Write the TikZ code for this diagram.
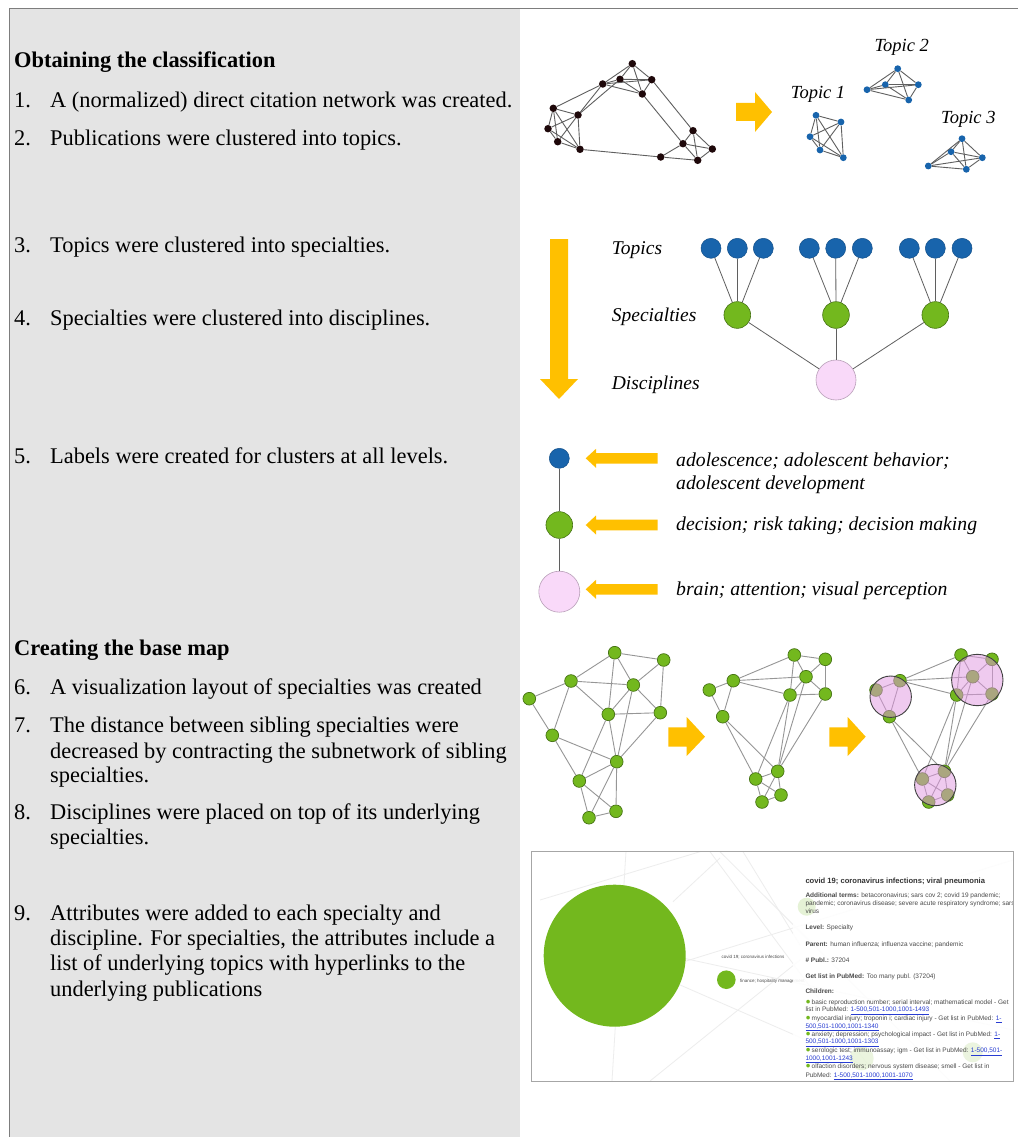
\documentclass[tikz,border=0pt]{standalone}
\usepackage{fontspec}
\setmainfont{Liberation Serif}
\newfontfamily\uisans{Liberation Sans}
\definecolor{orng}{RGB}{255,192,0}
\definecolor{panelgray}{RGB}{228,228,228}
\definecolor{framegray}{RGB}{125,125,125}
\definecolor{nodeblk}{RGB}{30,8,10}
\definecolor{nodeblue}{RGB}{24,100,172}
\definecolor{gnode}{RGB}{115,184,30}
\definecolor{gborder}{RGB}{70,115,20}
\definecolor{pinkn}{RGB}{249,217,249}
\definecolor{pborder}{RGB}{185,160,185}
\definecolor{pinkov}{RGB}{225,150,225}
\definecolor{edgegray}{RGB}{95,95,95}
\definecolor{edgelight}{RGB}{150,150,150}
\definecolor{ptext}{RGB}{75,75,75}
\definecolor{linkblue}{RGB}{40,60,210}
\newcommand\lnk[1]{\textcolor{linkblue}{\underline{#1}}}
\newcommand\gdot{{\fontsize{8.5}{8}\selectfont\textcolor{gnode}{●}}\,}
\begin{document}
\begin{tikzpicture}[x=1pt,y=-1pt,
  txt/.style={anchor=base west,inner sep=0pt,font=\fontsize{22.4}{26}\selectfont},
  hd/.style={anchor=base west,inner sep=0pt,font=\fontsize{22.4}{26}\selectfont\bfseries},
  lab/.style={anchor=base west,inner sep=0pt,font=\fontsize{19.5}{23}\selectfont\itshape},
  tlab/.style={anchor=base west,inner sep=0pt,font=\fontsize{18.5}{22}\selectfont\itshape},
  blk/.style={circle,fill=nodeblk,inner sep=0pt,minimum size=7.5pt},
  tb/.style={circle,fill=nodeblue,inner sep=0pt,minimum size=6.8pt},
  gn/.style={circle,fill=gnode,draw=gborder,line width=0.7pt,inner sep=0pt,minimum size=12.7pt},
  hb/.style={circle,fill=nodeblue,draw=nodeblue!80!black,line width=0.5pt,inner sep=0pt,minimum size=20pt},
  hg/.style={circle,fill=gnode,draw=gborder,line width=0.6pt,inner sep=0pt,minimum size=26.7pt},
  hp/.style={circle,fill=pinkn,draw=pborder,line width=0.6pt,inner sep=0pt,minimum size=40pt},
  ov/.style={circle,fill=pinkov,fill opacity=0.5,draw=black!75,line width=0.9pt,inner sep=0pt},
  edge/.style={draw=edgegray,line width=0.9pt},
  ledge/.style={draw=edgelight,line width=0.9pt},
  pt/.style={anchor=base west,inner sep=0pt,font=\uisans\fontsize{6.5}{7.5}\selectfont,text=ptext},
  maplab/.style={anchor=base west,inner sep=0pt,font=\uisans\fontsize{4.5}{5}\selectfont,text=ptext}
]
\useasboundingbox (0,0) rectangle (1018,1137);
\fill[white] (0,0) rectangle (1018,1137);
% left panel
\fill[panelgray] (9.5,8.5) rectangle (519.5,1137);
\draw[framegray,line width=1.2pt] (9.5,1137) -- (9.5,8.5) -- (1018,8.5);

% ---- left texts
\node[hd] (h1) at (14,68) {Obtaining the classification};
\node[txt] (n1) at (14,107.7) {1.};
\node[txt] (t1) at (50,107.7) {A (normalized) direct citation network was created.};
\node[txt] (n2) at (14,145.3) {2.};
\node[txt] (t2) at (50,145.3) {Publications were clustered into topics.};
\node[txt] (n3) at (14,252) {3.};
\node[txt] (t3) at (50,252) {Topics were clustered into specialties.};
\node[txt] (n4) at (14,325) {4.};
\node[txt] (t4) at (50,325) {Specialties were clustered into disciplines.};
\node[txt] (n5) at (14,463) {5.};
\node[txt] (t5) at (50,463) {Labels were created for clusters at all levels.};
\node[hd] (h2) at (14,655) {Creating the base map};
\node[txt] (n6) at (14,694) {6.};
\node[txt] (t6) at (50,694) {A visualization layout of specialties was created};
\node[txt] (n7) at (14,732) {7.};
\node[txt] (t7a) at (50,732) {The distance between sibling specialties were};
\node[txt] (t7b) at (50,758) {decreased by contracting the subnetwork of sibling};
\node[txt] (t7c) at (50,782) {specialties.};
\node[txt] (n8) at (14,819) {8.};
\node[txt] (t8a) at (50,819) {Disciplines were placed on top of its underlying};
\node[txt] (t8b) at (50,844) {specialties.};
\node[txt] (n9) at (14,920) {9.};
\node[txt] (t9a) at (50,920) {Attributes were added to each specialty and};
\node[txt] (t9b) at (50,945) {discipline. For specialties, the attributes include a};
\node[txt] (t9c) at (50,970) {list of underlying topics with hyperlinks to the};
\node[txt] (t9d) at (50,996) {underlying publications};

% ---- citation network (black)
\foreach \i/\x/\y in {1/632.3/63.7,2/602.7/84,3/620/79.3,4/651.7/79.7,5/642.3/94,
  6/553.3/108.3,7/578/115,8/548/128.7,9/557.7/141.7,10/580/149.3,
  11/693/130.7,12/683/143.7,13/712.3/149,14/660.7/157,15/697.7/160.3}
  \node[blk] (k\i) at (\x,\y) {};
\foreach \a/\b in {1/2,1/3,1/4,1/5,2/3,2/4,2/5,3/4,3/5,4/5,
  6/7,6/8,6/9,6/10,7/8,7/9,7/10,8/9,8/10,9/10,
  11/12,11/13,11/15,12/13,12/14,12/15,13/15,14/15,
  6/2,7/2,7/3,10/14,4/11,5/12}
  \draw[edge] (k\a) -- (k\b);
% arrow
\fill[orng] (736,103) -- (755,103) -- (755,92) -- (772,112) -- (755,132) -- (755,121) -- (736,121) -- cycle;
% topics
\node[tlab] (tl2) at (874.3,51.7) {Topic 2};
\node[tlab] (tl1) at (790.7,98.3) {Topic 1};
\node[tlab] (tl3) at (941,123.3) {Topic 3};
\foreach \i/\x/\y in {1/897.7/68.7,2/867/89.7,3/885.3/84.7,4/918.3/84.7,5/908.7/100}
  \node[tb] (p\i) at (\x,\y) {};
\foreach \i/\x/\y in {1/816/115.3,2/841/122,3/810/136.7,4/820/150,5/843.3/157.7}
  \node[tb] (q\i) at (\x,\y) {};
\foreach \i/\x/\y in {1/962/138.7,2/951/151.7,3/982.3/157.7,4/928.3/166,5/966.3/169.3}
  \node[tb] (r\i) at (\x,\y) {};
\foreach \a/\b in {1/2,1/3,1/4,1/5,2/3,2/4,2/5,3/4,3/5,4/5}{
  \draw[edge] (p\a) -- (p\b);
  \draw[edge] (q\a) -- (q\b);
  \draw[edge] (r\a) -- (r\b);
}

% ---- hierarchy
\fill[orng] (550,239) -- (568,239) -- (568,379) -- (578,379) -- (559,399) -- (540,379) -- (550,379) -- cycle;
\node[lab] (lt) at (611.7,254.3) {Topics};
\node[lab] (ls) at (611.7,321.7) {Specialties};
\node[lab] (ld) at (611.7,389) {Disciplines};
\foreach \i/\x in {1/711,2/737.3,3/763.3,4/809.3,5/835.7,6/862.3,7/909.3,8/935.3,9/962}
  \node[hb] (ht\i) at (\x,248.3) {};
\node[hg] (hs1) at (737.3,315) {};
\node[hg] (hs2) at (836,315) {};
\node[hg] (hs3) at (935.3,315) {};
\node[hp] (hd1) at (836,380) {};
\foreach \a/\b in {1/1,2/1,3/1,4/2,5/2,6/2,7/3,8/3,9/3}
  \draw[edge,line width=0.8pt] (ht\a) -- (hs\b);
\foreach \b in {1,2,3}
  \draw[edge,line width=0.8pt] (hs\b) -- (hd1);

% ---- labels
\node[hb] (lb) at (559.3,458.3) {};
\node[hg] (lg) at (559.3,525) {};
\node[hp,minimum size=41pt] (lp) at (559.3,591.7) {};
\draw[edge,line width=0.8pt] (lb) -- (lg);
\draw[edge,line width=0.8pt] (lg) -- (lp);
\foreach \y in {458.3,525,589.3}
  \fill[orng] (585.7,\y) -- (596,\y-9.5) -- (596,\y-5.3) -- (657.7,\y-5.3) -- (657.7,\y+5.3) -- (596,\y+5.3) -- (596,\y+9.5) -- cycle;
\node[lab,font=\fontsize{19.7}{23}\selectfont\itshape] (la1) at (676,466) {adolescence; adolescent behavior;};
\node[lab,font=\fontsize{19.7}{23}\selectfont\itshape] (la2) at (676,489.3) {adolescent development};
\node[lab,font=\fontsize{19.7}{23}\selectfont\itshape] (la3) at (676,530) {decision; risk taking; decision making};
\node[lab,font=\fontsize{19.7}{23}\selectfont\itshape] (la4) at (676,595) {brain; attention; visual perception};

% ---- base maps
\foreach \i/\x/\y in {1/614.7/652.7,2/663.7/660,3/571/681,4/633.3/685,5/529.3/698.7,6/608.3/714.3,
  7/660.3/712.7,8/552.3/735.3,9/616.7/761.7,10/579.3/781,11/616/811.3,12/589/817.7}
  \node[gn] (a\i) at (\x,\y) {};
\foreach \i/\x/\y in {1/794.3/655,2/825.3/659.3,3/733.3/680.7,4/806/676.7,5/709.3/690,6/790/695,
  7/825.3/694,8/722.7/716.7,9/777.7/771.3,10/755.7/779,11/781/795,12/762/802}{
  \node[gn] (b\i) at (\x,\y) {};
  \node[gn] (c\i) at (\x+166.7,\y) {};
}
\foreach \a/\b in {1/2,1/3,1/4,1/6,2/4,2/7,3/4,3/5,3/6,3/8,4/6,4/7,4/9,5/8,6/7,6/9,6/10,7/9,8/9,8/10,9/10,9/11,9/12,10/11,10/12,11/12}{
  \draw[ledge] (a\a) -- (a\b);
  \draw[ledge] (b\a) -- (b\b);
  \draw[ledge] (c\a) -- (c\b);
}
\node[ov,minimum size=41.4pt] (d1) at (890.7,696.7) {};
\node[ov,minimum size=51.4pt] (d2) at (977.3,680) {};
\node[ov,minimum size=41.4pt] (d3) at (935.3,785) {};
\fill[orng] (668.3,727.3) -- (686.7,727.3) -- (686.7,717) -- (705,736.7) -- (686.7,756) -- (686.7,746.7) -- (668.3,746.7) -- cycle;
\fill[orng] (829.3,727.3) -- (847.7,727.3) -- (847.7,717) -- (865.7,736.7) -- (847.7,756) -- (847.7,746.7) -- (829.3,746.7) -- cycle;

% ---- screenshot
\begin{scope}
\clip (531.5,851.5) rectangle (1013.5,1081);
\foreach \sx/\sy/\ex/\ey in {626/851/612/1081, 710/851.7/880/1081, 720/851.7/950/1081,
  560/1000/1013/860, 600/940/1013/1030, 600/950/900/1081, 673/901.7/720/858, 743/851.7/800/945,
  540/900/700/851.7, 650/1081/800/960}
  \draw[black!7,line width=0.8pt] (\sx,\sy) -- (\ex,\ey);
\node[circle,fill=gnode,inner sep=0pt,minimum size=142pt] (big) at (614.7,955.7) {};
\node[circle,fill=gnode,inner sep=0pt,minimum size=18.6pt] (small) at (726.3,979.7) {};
\node[maplab] (ml1) at (721.5,958.8) {covid 19; coronavirus infections};
\node[maplab] (ml2) at (740,982.6) {finance; hospitality management};
\fill[white,opacity=0.88] (793,851.5) rectangle (1013.5,1081);
\fill[gnode,opacity=0.18] (806.7,906.7) circle (9);
\fill[gnode,opacity=0.14] (861.7,1058.3) circle (12);
\fill[gnode,opacity=0.14] (972.7,1052.3) circle (10);
\node[pt,font=\uisans\bfseries\fontsize{7.6}{8}\selectfont,text=black!80] (s0) at (805.3,883.6) {covid 19; coronavirus infections; viral pneumonia};
\node[pt] (s1) at (805.3,897.2) {\textbf{Additional terms:} betacoronavirus; sars cov 2; covid 19 pandemic;};
\node[pt] (s2) at (805.3,905.2) {pandemic; coronavirus disease; severe acute respiratory syndrome; sars};
\node[pt] (s3) at (805.3,913.2) {virus};
\node[pt] (s4) at (805.3,929.9) {\textbf{Level:} Specialty};
\node[pt] (s5) at (805.3,946.2) {\textbf{Parent:} human influenza; influenza vaccine; pandemic};
\node[pt] (s6) at (805.3,962.2) {\textbf{\# Publ.:} 37204};
\node[pt] (s7) at (805.3,978.5) {\textbf{Get list in PubMed:} Too many publ. (37204)};
\node[pt] (s8) at (805.3,993.2) {\textbf{Children:}};
\node[pt] (s9) at (805.3,1004.2) {\gdot basic reproduction number; serial interval; mathematical model - Get};
\node[pt] (s10) at (805.3,1011.5) {list in PubMed: \lnk{1-500,501-1000,1001-1493}};
\node[pt] (s11) at (805.3,1020.5) {\gdot myocardial injury; troponin i; cardiac injury - Get list in PubMed: \lnk{1-}};
\node[pt] (s12) at (805.3,1028.2) {\lnk{500,501-1000,1001-1340}};
\node[pt] (s13) at (805.3,1036.5) {\gdot anxiety; depression; psychological impact - Get list in PubMed: \lnk{1-}};
\node[pt] (s14) at (805.3,1043.9) {\lnk{500,501-1000,1001-1303}};
\node[pt] (s15) at (805.3,1052.9) {\gdot serologic test; immunoassay; igm - Get list in PubMed: \lnk{1-500,501-}};
\node[pt] (s16) at (805.3,1060.2) {\lnk{1000,1001-1243}};
\node[pt] (s17) at (805.3,1068.9) {\gdot olfaction disorders; nervous system disease; smell - Get list in};
\node[pt] (s18) at (805.3,1077.2) {PubMed: \lnk{1-500,501-1000,1001-1070}};
\end{scope}
\draw[black!35,line width=0.9pt] (531.5,851.5) rectangle (1013.5,1081);
\end{tikzpicture}
\end{document}
